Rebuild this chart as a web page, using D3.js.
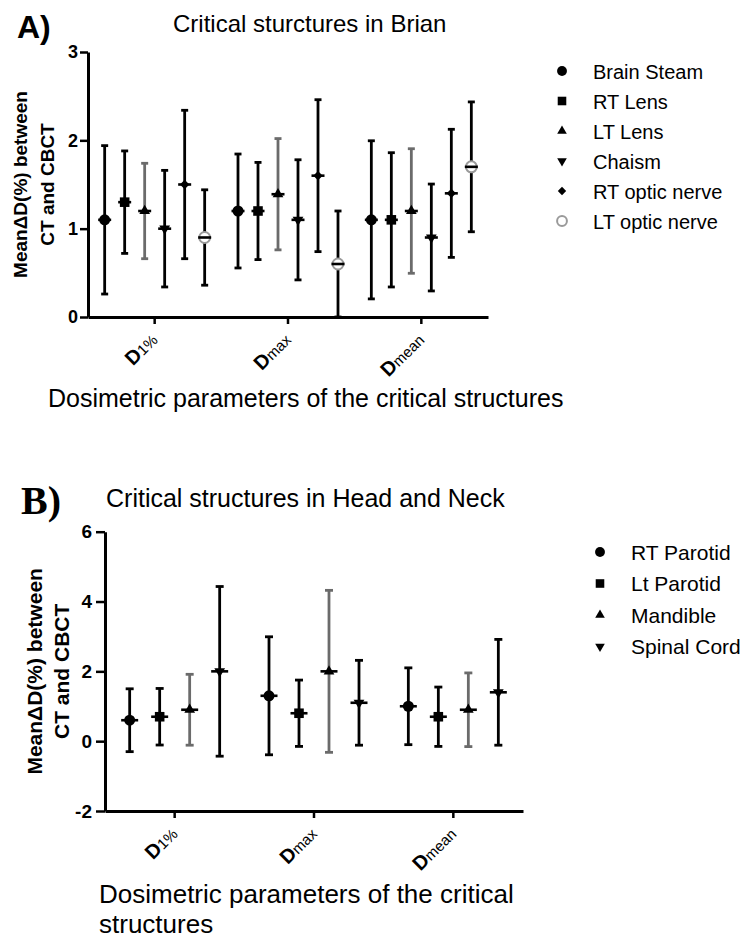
<!DOCTYPE html>
<html><head><meta charset="utf-8">
<script src="https://cdn.jsdelivr.net/npm/d3@7"></script>
<style>
body{margin:0;background:#fff}
svg{display:block}
text{font-family:"Liberation Sans",Arial,sans-serif;fill:#000}
</style>
</head><body>
<svg id="fig" width="754" height="938"></svg>
<script>
// Dosimetric parameters (x categories) and their tick label parts
const params = ["D1%", "Dmax", "Dmean"];
const paramSubs = ["1%", "max", "mean"];

// Panel A: brain structures, mean ΔD(%) and SD per parameter
const brainSeries = ["Brain Steam", "RT Lens", "LT Lens", "Chaism", "RT optic nerve", "LT optic nerve"];
const brainMean = [[1.1, 1.2, 1.1], [1.3, 1.2, 1.1], [1.2, 1.39, 1.2], [1.0, 1.1, 0.9], [1.5, 1.6, 1.4], [0.9, 0.6, 1.7]];
const brainSD = [[0.84, 0.645, 0.895], [0.58, 0.55, 0.76], [0.54, 0.63, 0.705], [0.66, 0.68, 0.605], [0.84, 0.86, 0.725], [0.54, 0.6, 0.735]];
const brainTicks = [0, 1, 2, 3];

// Panel B: head and neck structures
const hnSeries = ["RT Parotid", "Lt Parotid", "Mandible", "Spinal Cord"];
const hnMean = [[0.6, 1.3, 1.0], [0.7, 0.8, 0.7], [0.9, 2.0, 0.9], [2.0, 1.1, 1.4]];
const hnSD = [[0.9, 1.69, 1.1], [0.81, 0.95, 0.85], [1.015, 2.32, 1.055], [2.43, 1.215, 1.515]];
const hnTicks = [-2, 0, 2, 4, 6];

const svg = d3.select("#fig");
const GRAY = "#6b6b6b";

function markerPath(kind, scale) {
  const s = scale || 1;
  switch (kind) {
    case "circle": case "openCircle": return d3.symbol(d3.symbolCircle, 95 * s)();
    case "square": return d3.symbol(d3.symbolSquare, 92 * s)();
    case "triangle": case "triangleDown": return d3.symbol(d3.symbolTriangle, 50 * s)();
    case "diamond": return d3.symbol(d3.symbolSquare, 44 * s)();
  }
}
function markerRotate(kind) {
  return kind === "triangleDown" ? 180 : kind === "diamond" ? 45 : 0;
}
function styleMarker(sel, kind) {
  if (kind === "openCircle") sel.attr("fill", "#fff").attr("stroke", "#9a9a9a").attr("stroke-width", 2);
  else sel.attr("fill", "#000");
}

function drawPanel(cfg) {
  const g = svg.append("g");
  const x = d3.scaleBand().domain(params).range([cfg.x0, cfg.x1]);
  const y = d3.scaleLinear().domain(cfg.domain).range([cfg.yBottom, cfg.yTop]);
  const n = cfg.series.length;
  const offset = i => (i - (n - 1) / 2) * cfg.step;

  // y axis (plain hyphen for negative values)
  const ya = g.append("g").attr("transform", `translate(${cfg.x0},0)`)
    .call(d3.axisLeft(y).tickValues(cfg.ticks).tickSize(cfg.tickSize).tickSizeOuter(0).tickPadding(cfg.tickPad).tickFormat(d => String(d)));
  ya.select(".domain").attr("stroke", "#000").attr("stroke-width", 3);
  ya.selectAll(".tick line").attr("stroke", "#000").attr("stroke-width", 2.5);
  ya.selectAll(".tick text").attr("font-size", cfg.tickFont).attr("font-weight", "bold")
    .style("font-family", "'Liberation Sans',Arial,sans-serif").attr("fill", "#000");

  // x axis
  const xa = g.append("g").attr("transform", `translate(0,${cfg.yBottom})`)
    .call(d3.axisBottom(x).tickSize(7).tickSizeOuter(0).tickFormat(""));
  xa.select(".domain").attr("stroke", "#000").attr("stroke-width", 3);
  xa.selectAll(".tick line").attr("stroke", "#000").attr("stroke-width", 2.5);

  // rotated category labels: bold "D" followed by a smaller qualifier
  params.forEach((p, j) => {
    const cx = x(p) + x.bandwidth() / 2;
    const t = g.append("text")
      .attr("transform", `translate(${cx + 4},${cfg.yBottom + 24}) rotate(-45)`)
      .attr("text-anchor", "end");
    t.append("tspan").attr("font-weight", "bold").attr("font-size", 20).text("D");
    t.append("tspan").attr("font-size", 15).text(paramSubs[j]);
  });

  // error bars with mean markers
  cfg.series.forEach((name, i) => {
    const kind = cfg.kinds[i];
    const col = cfg.barColors[i];
    params.forEach((p, j) => {
      const cx = x(p) + x.bandwidth() / 2 + offset(i);
      const m = cfg.mean[i][j], sd = cfg.sd[i][j];
      const yHi = y(m + sd), yLo = y(Math.max(cfg.domain[0], m - sd)), yM = y(m);
      const pg = g.append("g");
      pg.append("line").attr("x1", cx).attr("x2", cx).attr("y1", yHi).attr("y2", yLo)
        .attr("stroke", col).attr("stroke-width", 2.8);
      [yHi, yLo].forEach(yy => pg.append("line")
        .attr("x1", cx - cfg.cap / 2).attr("x2", cx + cfg.cap / 2).attr("y1", yy).attr("y2", yy)
        .attr("stroke", col).attr("stroke-width", 2.8));
      pg.append("path").attr("d", markerPath(kind))
        .attr("transform", `translate(${cx},${yM}) rotate(${markerRotate(kind)})`)
        .call(styleMarker, kind);
      pg.append("line").attr("x1", cx - cfg.meanW / 2).attr("x2", cx + cfg.meanW / 2).attr("y1", yM).attr("y2", yM)
        .attr("stroke", "#000").attr("stroke-width", 2.6);
    });
  });

  // legend
  cfg.series.forEach((name, i) => {
    const kind = cfg.kinds[i];
    const ly = cfg.legY + i * cfg.legStep;
    g.append("path").attr("d", markerPath(kind, 0.8))
      .attr("transform", `translate(${cfg.legX},${ly}) rotate(${markerRotate(kind)})`)
      .call(styleMarker, kind);
    g.append("text").attr("x", cfg.legX + 31).attr("y", ly + 7.5).attr("font-size", cfg.legFont).text(name);
  });

  // panel letter and title
  g.append("text").attr("x", cfg.letterX).attr("y", cfg.letterY).attr("font-size", cfg.letterSize)
    .attr("font-weight", "bold").style("font-family", cfg.letterFont).text(cfg.letter);
  g.append("text").attr("x", cfg.titleX).attr("y", cfg.titleY).attr("font-size", cfg.titleSize).text(cfg.title);

  // y axis title (two lines)
  const cy = (cfg.yTop + cfg.yBottom) / 2;
  ["MeanΔD(%) between", "CT and CBCT"].forEach((line, k) => {
    g.append("text").attr("transform", `translate(${cfg.yTitleX[k]},${cy}) rotate(-90)`)
      .attr("text-anchor", "middle").attr("font-weight", "bold").attr("font-size", cfg.yTitleSize).text(line);
  });

  // x axis title
  cfg.xTitle.forEach((line, k) => {
    g.append("text").attr("x", cfg.xTitleX).attr("y", cfg.xTitleY + k * cfg.xTitleLead)
      .attr("font-size", cfg.xTitleSize).text(line);
  });
}

drawPanel({
  series: brainSeries, mean: brainMean, sd: brainSD, ticks: brainTicks,
  domain: [0, 3], x0: 88, x1: 488, yTop: 52, yBottom: 317,
  step: 20, cap: 7, meanW: 13, tickSize: 8, tickPad: 2, tickFont: 18,
  kinds: ["circle", "square", "triangle", "triangleDown", "diamond", "openCircle"],
  barColors: ["#000", "#000", GRAY, "#000", "#000", "#000"],
  legX: 562, legY: 71, legStep: 30, legFont: 20,
  letter: "A)", letterX: 17, letterY: 38, letterSize: 32, letterFont: "'Liberation Sans',Arial,sans-serif",
  title: "Critical sturctures in Brian", titleX: 173, titleY: 32, titleSize: 24,
  yTitleX: [27, 54], yTitleSize: 19,
  xTitle: ["Dosimetric parameters of the critical structures"], xTitleX: 48, xTitleY: 407, xTitleLead: 30, xTitleSize: 25
});

drawPanel({
  series: hnSeries, mean: hnMean, sd: hnSD, ticks: hnTicks,
  domain: [-2, 6], x0: 105, x1: 523, yTop: 531.7, yBottom: 811,
  step: 30, cap: 8, meanW: 17, tickSize: 9, tickPad: 4, tickFont: 19,
  kinds: ["circle", "square", "triangle", "triangleDown"],
  barColors: ["#000", "#000", GRAY, "#000"],
  legX: 600, legY: 552, legStep: 31.5, legFont: 21,
  letter: "B)", letterX: 21, letterY: 514, letterSize: 40, letterFont: "'Liberation Serif','Times New Roman',serif",
  title: "Critical structures in Head and Neck", titleX: 106, titleY: 507, titleSize: 25,
  yTitleX: [42, 69], yTitleSize: 21,
  xTitle: ["Dosimetric parameters of the critical", "structures"], xTitleX: 99, xTitleY: 903, xTitleLead: 30, xTitleSize: 26
});
</script>
</body></html>
